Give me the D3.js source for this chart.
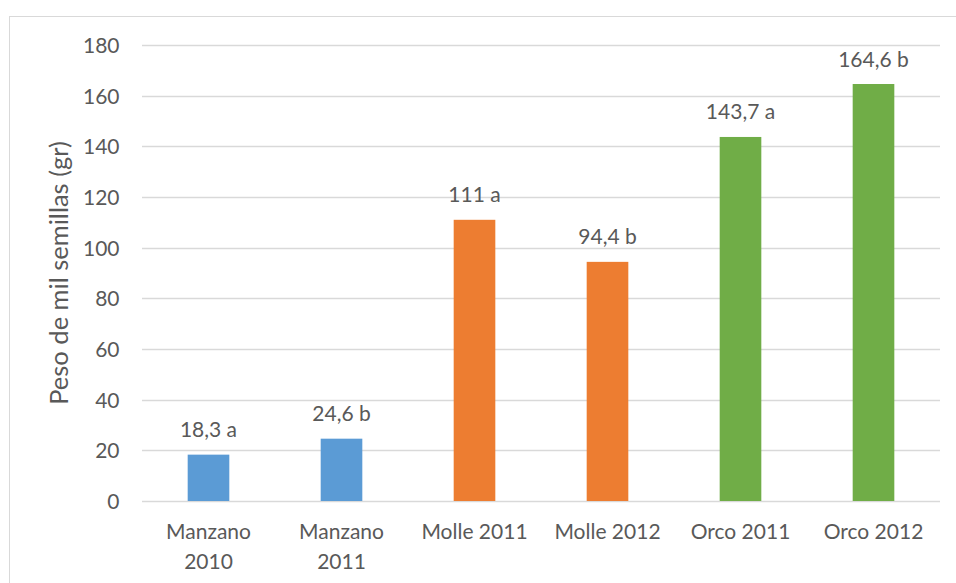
<!DOCTYPE html>
<html>
<head>
<meta charset="utf-8">
<script src="https://cdn.jsdelivr.net/npm/d3@7"></script>
<style>
  body { margin: 0; background: #fff; }
  svg text { font-family: "Lato", "Open Sans", sans-serif; fill: #595959; }
</style>
</head>
<body>
<svg id="chart" width="956" height="583"></svg>
<script>
// Peso de mil semillas por procedencia y año
const categories = [["Manzano", "2010"], ["Manzano", "2011"], ["Molle 2011"], ["Molle 2012"], ["Orco 2011"], ["Orco 2012"]];
const values = [18.3, 24.6, 111, 94.4, 143.7, 164.6];
const valueLabels = ["18,3 a", "24,6 b", "111 a", "94,4 b", "143,7 a", "164,6 b"];
const colors = ["#5B9BD5", "#5B9BD5", "#ED7D31", "#ED7D31", "#70AD47", "#70AD47"];
const yTicks = [0, 20, 40, 60, 80, 100, 120, 140, 160, 180];
const yTitle = "Peso de mil semillas (gr)";

const labelSize = 21;
const titleSize = 25.5;

const svg = d3.select("#chart");

// chart frame
svg.append("rect")
  .attr("x", 9.5).attr("y", 16.5)
  .attr("width", 1000).attr("height", 1000)
  .attr("fill", "none").attr("stroke", "#d9d9d9").attr("stroke-width", 1);

const plot = { left: 142, right: 940, top: 45, bottom: 501 };

const x = d3.scaleBand()
  .domain(d3.range(categories.length))
  .range([plot.left, plot.right])
  .paddingInner(0.687).paddingOuter(0.3435);

const y = d3.scaleLinear().domain([0, 180]).range([plot.bottom, plot.top]);

// gridlines
svg.append("g").selectAll("line").data(yTicks).join("line")
  .attr("x1", plot.left).attr("x2", plot.right)
  .attr("y1", d => Math.round(y(d)) + 0.5).attr("y2", d => Math.round(y(d)) + 0.5)
  .attr("stroke", "#d9d9d9").attr("stroke-width", 1.3);

// y axis labels
const yAxis = d3.axisLeft(y).tickValues(yTicks).tickSize(0).tickPadding(0);
const gy = svg.append("g").attr("transform", `translate(${plot.left - 22.5},0)`).call(yAxis);
gy.select(".domain").remove();
gy.selectAll("text").attr("font-size", labelSize).attr("dy", "0.35em")
  .style("font-family", "Lato, 'Open Sans', sans-serif").attr("fill", "#595959");

// bars
svg.append("g").selectAll("rect").data(values).join("rect")
  .attr("x", (d, i) => x(i))
  .attr("width", x.bandwidth())
  .attr("y", d => y(d))
  .attr("height", d => y(0) - y(d))
  .attr("fill", (d, i) => colors[i]);

// value labels
svg.append("g").selectAll("text").data(values).join("text")
  .attr("x", (d, i) => x(i) + x.bandwidth() / 2)
  .attr("y", d => y(d) - 17.5)
  .attr("text-anchor", "middle")
  .attr("font-size", labelSize)
  .text((d, i) => valueLabels[i]);

// category labels
const cat = svg.append("g").selectAll("text").data(categories).join("text")
  .attr("x", (d, i) => x(i) + x.bandwidth() / 2)
  .attr("y", 538.5)
  .attr("text-anchor", "middle")
  .attr("font-size", labelSize);
cat.selectAll("tspan").data(d => d).join("tspan")
  .attr("x", function() { return d3.select(this.parentNode).attr("x"); })
  .attr("dy", (d, j) => j === 0 ? 0 : 30)
  .text(d => d);

// y axis title
svg.append("text")
  .attr("transform", `translate(67.5,${(plot.top + plot.bottom) / 2}) rotate(-90)`)
  .attr("text-anchor", "middle")
  .attr("font-size", titleSize)
  .text(yTitle);
</script>
</body>
</html>
